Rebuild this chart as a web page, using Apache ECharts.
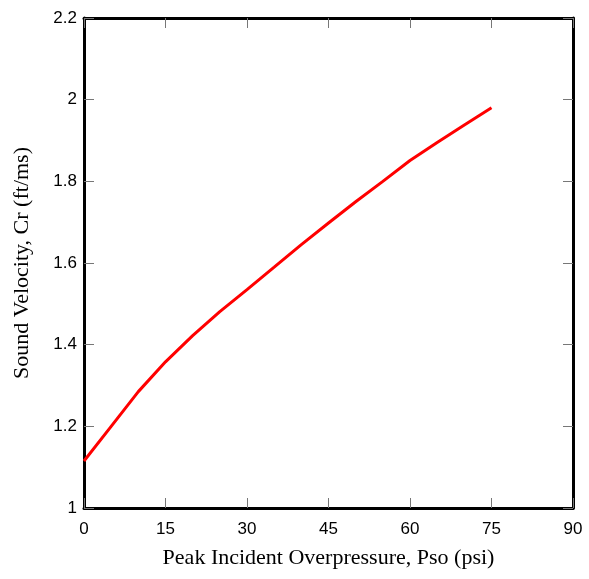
<!DOCTYPE html>
<html>
<head>
<meta charset="utf-8">
<script src="https://cdn.jsdelivr.net/npm/echarts@6/dist/echarts.min.js"></script>
<style>html,body{margin:0;padding:0;background:#fff;}#c{width:589px;height:579px;}</style>
</head>
<body>
<div id="c"></div>
<script>
const pressure = [0, 5, 10, 15, 20, 25, 30, 35, 40, 45, 50, 55, 60, 65, 70, 75];
const velocity = [1.115, 1.20, 1.285, 1.358, 1.422, 1.481, 1.535, 1.59, 1.645, 1.698, 1.75, 1.80, 1.851, 1.895, 1.938, 1.98];
const xTitle = 'Peak Incident Overpressure, Pso (psi)';
const yTitle = 'Sound Velocity, Cr (ft/ms)';

const chart = echarts.init(document.getElementById('c'));
const tickStyle = {show: true, inside: true, length: 10, lineStyle: {color: '#777', width: 1}};
const lineStyle = {color: '#000', width: 3};
chart.setOption({
  animation: false,
  grid: {left: 84, right: 16, top: 18, bottom: 71},
  xAxis: [{
    type: 'value', min: 0, max: 90, interval: 15, position: 'bottom',
    axisLine: {show: true, onZero: false, lineStyle: lineStyle},
    axisTick: tickStyle,
    splitLine: {show: false},
    axisLabel: {fontFamily: 'Liberation Sans, Arial', fontSize: 17, color: '#000', margin: 13},
    name: xTitle, nameLocation: 'middle', nameGap: 39,
    nameTextStyle: {fontFamily: 'Liberation Serif, Times New Roman', fontSize: 22, color: '#000'}
  }, {
    type: 'value', min: 0, max: 90, interval: 15, position: 'top',
    axisLine: {show: true, onZero: false, lineStyle: lineStyle},
    axisTick: tickStyle, axisLabel: {show: false}, splitLine: {show: false}
  }],
  yAxis: [{
    type: 'value', min: 1, max: 2.2, interval: 0.2, position: 'left',
    axisLine: {show: true, onZero: false, lineStyle: lineStyle},
    axisTick: tickStyle,
    splitLine: {show: false},
    axisLabel: {fontFamily: 'Liberation Sans, Arial', fontSize: 17, color: '#000', margin: 7},
    name: yTitle, nameLocation: 'middle', nameGap: 51,
    nameTextStyle: {fontFamily: 'Liberation Serif, Times New Roman', fontSize: 22, color: '#000'}
  }, {
    type: 'value', min: 1, max: 2.2, interval: 0.2, position: 'right',
    axisLine: {show: true, onZero: false, lineStyle: lineStyle},
    axisTick: tickStyle, axisLabel: {show: false}, splitLine: {show: false}
  }],
  series: [{
    type: 'line',
    data: pressure.map((p, i) => [p, velocity[i]]),
    showSymbol: false,
    lineStyle: {color: '#ff0000', width: 3},
    itemStyle: {color: '#ff0000'}
  }]
});
</script>
</body>
</html>
